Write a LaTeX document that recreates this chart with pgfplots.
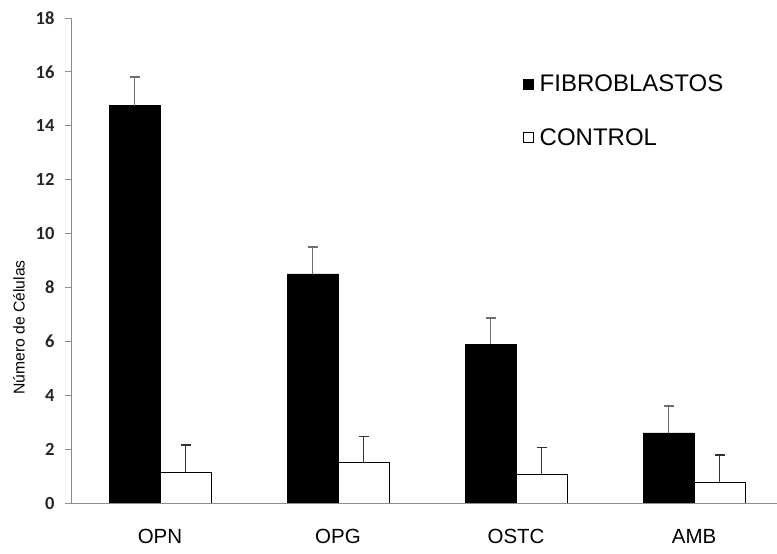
\documentclass[border=0pt]{standalone}
\usepackage{pgfplots}
\pgfplotsset{compat=1.18}
\usepackage{fontspec}
\setmainfont{Liberation Sans}
\newfontfamily\tickfont{Carlito}
\definecolor{axisgray}{RGB}{140,140,140}
\definecolor{errgray}{RGB}{110,110,110}

\begin{document}
\begin{tikzpicture}
\path[use as bounding box] (-71pt,-51pt) rectangle (706pt,503pt);
\begin{axis}[
    scale only axis,
    width=706pt, height=485pt,
    ybar=0pt, bar width=51pt,
    xmin=-0.5, xmax=3.466,
    ymin=0, ymax=18,
    axis lines*=left,
    axis line style={axisgray, line width=0.8pt},
    xtick={0,1,2,3},
    xticklabels={OPN,OPG,OSTC,AMB},
    x tick style={draw=none},
    extra x ticks={-0.5,0.5,1.5,2.5},
    extra x tick labels={},
    extra x tick style={tick style={axisgray, line width=0.8pt}, major tick length=6pt, tick align=outside},
    xticklabel style={font=\fontsize{20.5}{20.5}\selectfont, yshift=-17pt},
    ytick={0,2,...,18},
    y tick style={axisgray, line width=0.8pt},
    major tick length=6pt,
    tick align=outside,
    yticklabel style={font=\tickfont\bfseries\fontsize{18.5}{18.5}\selectfont, text=black!85, xshift=-7pt},
    /pgf/number format/assume math mode=true,
    ylabel={Número de Células},
    ylabel style={font=\fontsize{15.7}{15.7}\selectfont, at={(axis description cs:-0.0737,0.362)}, anchor=center, rotate=0},
    legend image code/.code={\draw[#1, line width=0.6pt] (0pt,-5pt) rectangle (10pt,5pt); \path (14pt,0pt);},
    legend style={draw=none, fill=none, at={(0.64,0.887)}, anchor=north west,
        font=\fontsize{24}{24}\selectfont, row sep=31pt, cells={anchor=west},
        inner sep=0pt},
    error bars/y dir=plus,
    error bars/y explicit,
]
\addplot[fill=black, draw=black,
    error bars/error bar style={errgray, line width=1.8pt},
    error bars/error mark options={errgray, rotate=90, mark size=5pt, line width=1.8pt}]
    coordinates {(0,14.75) +- (0,1.05) (1,8.5) +- (0,1.0) (2,5.9) +- (0,0.98) (3,2.6) +- (0,1.0)};
\addplot[fill=white, draw=black, line width=0.8pt,
    error bars/error bar style={black!80, line width=1.3pt},
    error bars/error mark options={black!80, rotate=90, mark size=5pt, line width=1.3pt}]
    coordinates {(0,1.15) +- (0,1.0) (1,1.5) +- (0,0.98) (2,1.07) +- (0,1.0) (3,0.78) +- (0,1.0)};
\legend{FIBROBLASTOS, CONTROL}
\end{axis}
\end{tikzpicture}
\end{document}
